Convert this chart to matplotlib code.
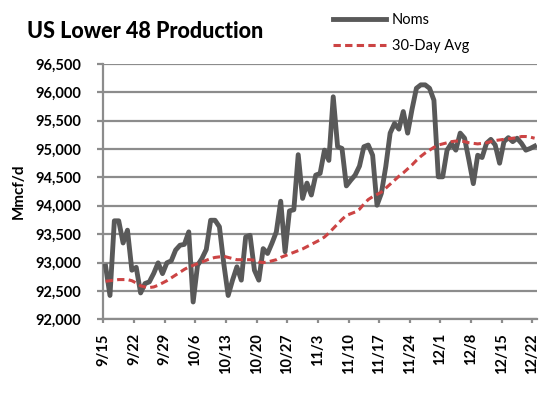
import matplotlib
matplotlib.use("Agg")
import matplotlib.pyplot as plt
from matplotlib.ticker import FuncFormatter

plt.rcParams['font.family'] = ['Lato', 'DejaVu Sans']

tick_labels = ['9/15', '9/22', '9/29', '10/6', '10/13', '10/20', '10/27', '11/3',
               '11/10', '11/17', '11/24', '12/1', '12/8', '12/15', '12/22']

noms = [92935, 92420, 93735, 93735, 93345, 93570, 92865, 92915, 92465, 92630,
        92660, 92810, 92995, 92805, 92995, 93030, 93220, 93305, 93320, 93540,
        92305, 92950, 93070, 93230, 93745, 93745, 93630, 92980, 92420, 92690,
        92925, 92690, 93450, 93480, 92865, 92690, 93245, 93160, 93340, 93540,
        94080, 93190, 93910, 93930, 94900, 94130, 94400, 94190, 94540, 94570,
        94980, 94800, 95920, 95040, 95010, 94350, 94450, 94540, 94700, 95040,
        95070, 94890, 94010, 94220, 94690, 95280, 95450, 95350, 95660, 95280,
        95700, 96070, 96130, 96130, 96070, 95860, 94510, 94510, 94980, 95100,
        94980, 95280, 95190, 94800, 94390, 94890, 94850, 95100, 95170, 95070,
        94750, 95130, 95200, 95130, 95190, 95100, 94980, 95010, 95050]

avg30 = [92670, 92680, 92690, 92700, 92700, 92700, 92680, 92640, 92590, 92570,
         92560, 92570, 92600, 92640, 92680, 92730, 92780, 92830, 92880, 92920,
         92950, 92980, 93010, 93040, 93070, 93090, 93100, 93110, 93090, 93070,
         93050, 93050, 93050, 93050, 93040, 93010, 93000, 93010, 93030, 93050,
         93090, 93120, 93150, 93180, 93210, 93240, 93280, 93320, 93360, 93400,
         93450, 93520, 93600, 93680, 93760, 93830, 93860, 93890, 93940, 94030,
         94110, 94160, 94200, 94240, 94310, 94380, 94450, 94520, 94580, 94650,
         94720, 94800, 94870, 94930, 94980, 95030, 95070, 95090, 95110, 95130,
         95140, 95140, 95130, 95110, 95100, 95090, 95100, 95110, 95130, 95150,
         95160, 95170, 95180, 95190, 95200, 95220, 95220, 95210, 95190]

days = list(range(len(noms)))

fig = plt.figure(figsize=(5.5, 3.93), dpi=100)
ax = fig.add_axes([0.188, 0.1875, 0.788, 0.65])

grid_c = '#8c8c8c'
ax.plot(days, noms, color='#595959', lw=3.5, solid_joinstyle='round',
        label='Noms', zorder=3)
ax.plot(days, avg30, color='#cc4444', lw=2.2, dashes=(2.4, 1.4),
        label='30-Day Avg', zorder=4)

ax.set_xlim(-0.5, len(noms) - 0.5)
ax.set_ylim(92000, 96500)
ax.set_yticks(range(92000, 96501, 500))
ax.yaxis.set_major_formatter(FuncFormatter(lambda v, p: f'{int(v):,}'))
ax.set_xticks([i * 7 - 0.5 for i in range(len(tick_labels))])
ax.set_xticklabels(tick_labels, rotation=90, fontweight='bold', fontsize=10.5)
for lab in ax.get_yticklabels():
    lab.set_fontweight('bold')
    lab.set_fontsize(10.5)

ax.grid(axis='y', color=grid_c, lw=1.6)
ax.set_axisbelow(True)
for s in ['top', 'right']:
    ax.spines[s].set_visible(False)
for s in ['left', 'bottom']:
    ax.spines[s].set_color(grid_c)
    ax.spines[s].set_linewidth(1.6)
ax.tick_params(axis='y', length=4, width=1.6, color=grid_c, pad=12)
ax.tick_params(axis='x', length=3, width=1.6, color=grid_c, pad=7)

ax.set_ylabel('Mmcf/d', fontweight='bold', fontsize=11)
ax.yaxis.set_label_coords(-0.18, 0.5)

fig.text(0.049, 0.92, 'US Lower 48 Production', fontsize=15.5,
         fontweight='black', ha='left', va='center')

leg = ax.legend(loc='upper left', bbox_to_anchor=(0.606, 0.967),
                bbox_transform=fig.transFigure, frameon=False,
                fontsize=10.5, handlelength=3.6, handletextpad=0.4,
                labelspacing=0.85, borderaxespad=0, borderpad=0)

fig.savefig('out.png', dpi=100)
